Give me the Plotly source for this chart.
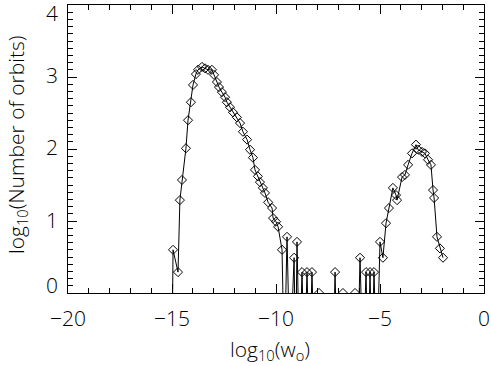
import plotly.graph_objects as go

# log10(w_o) bin positions and log10(number of orbits); -1 marks an empty bin (log of 0, off the axis)
log_w = [-15.19, -15.0, -14.95, -14.71, -14.62, -14.52, -14.33, -14.23, -14.09, -13.99, -13.85,
         -13.75, -13.56, -13.41, -13.27, -13.08, -12.98, -12.84, -12.74, -12.60, -12.45,
         -12.36, -12.21, -12.07, -11.88, -11.73, -11.59, -11.39, -11.25, -11.11, -11.01,
         -10.87, -10.77, -10.63, -10.53, -10.38, -10.19, -10.14, -10.0, -9.90, -9.71,
         -9.60, -9.47, -9.33, -9.13, -9.06, -8.99, -8.87, -8.75, -8.63, -8.51, -8.39,
         -8.27, -8.15, -7.93, -7.83, -7.26, -7.16, -7.06, -6.78, -6.68, -6.20, -6.08,
         -5.96, -5.82, -5.67, -5.58, -5.48, -5.38, -5.29, -5.15, -5.0, -4.86, -4.71,
         -4.57, -4.38, -4.23, -4.18, -3.94, -3.80, -3.65, -3.46, -3.27, -3.17, -2.98,
         -2.84, -2.69, -2.55, -2.45, -2.40, -2.26, -2.12, -1.97]
log_n = [-1, -1, 0.60, 0.29, 1.29, 1.57, 2.01, 2.40, 2.65, 2.89, 3.04,
         3.10, 3.14, 3.12, 3.10, 3.10, 3.03, 2.93, 2.86, 2.79, 2.72,
         2.65, 2.58, 2.51, 2.44, 2.36, 2.24, 2.13, 1.99, 1.88, 1.71,
         1.62, 1.54, 1.46, 1.39, 1.26, 1.18, 1.04, 0.99, 0.92, 0.60,
         -1, 0.78, -1, 0.49, -1, 0.71, -1, 0.29, -1, 0.29, -1,
         0.29, -1, 0.0, -1, -1, 0.29, -1, 0.0, -1, 0.0, -1,
         0.49, -1, 0.29, -1, 0.29, -1, 0.29, -1, 0.71, 0.49, 0.97,
         1.18, 1.46, 1.36, 1.29, 1.61, 1.64, 1.78, 1.94, 2.06, 1.99, 1.96,
         1.94, 1.85, 1.78, 1.43, 1.32, 0.78, 0.62, 0.49]

x_ticks = [-20, -15, -10, -5, 0]
x_labels = ["\u221220", "\u221215", "\u221210", "\u22125", "0"]
y_ticks = [0, 1, 2, 3, 4]
y_labels = ["0", "1", "2", "3", "4"]
x_title = "log<sub>10</sub>(w<sub>o</sub>)"
y_title = "log<sub>10</sub>(Number of orbits)"

# styling: vertical nudges of the y tick labels (pixels, positive = up)
y_label_nudge = [8, 1, 2, 2, -8]

FONT = dict(family="Open Sans", size=21, color="black", weight=300)
TFONT = dict(family="Open Sans", size=21, color="black", weight=300)

fig = go.Figure()
fig.add_trace(go.Scatter(
    x=log_w, y=log_n, mode="lines+markers",
    line=dict(color="black", width=1),
    marker=dict(symbol="diamond-open", size=7, color="black", line=dict(width=1)),
    showlegend=False, cliponaxis=True,
))
# empty trace registering the minor-tick axes
fig.add_trace(go.Scatter(x=[], y=[], xaxis="x2", yaxis="y2", showlegend=False))

base = dict(showgrid=False, zeroline=False, showticklabels=False,
            ticks="inside", tickcolor="black", tickwidth=1, mirror="ticks")

fig.update_layout(
    width=491, height=366,
    margin=dict(l=68, r=7, t=5, b=73),
    paper_bgcolor="white", plot_bgcolor="white",
    xaxis=dict(range=[-20, 0], tickmode="array", tickvals=x_ticks, ticklen=9,
               showline=True, linecolor="black", linewidth=1, **base),
    yaxis=dict(range=[0, 4], tickmode="array", tickvals=y_ticks, ticklen=9,
               showline=True, linecolor="black", linewidth=1, **base),
    xaxis2=dict(range=[-20, 0], overlaying="x", anchor="y", side="bottom", tickmode="linear",
                tick0=0, dtick=1, ticklen=5, showline=False, **base),
    yaxis2=dict(range=[0, 4], overlaying="y", anchor="x", side="left", tickmode="linear",
                tick0=0, dtick=0.1, ticklen=5, showline=False, **base),
)

annotations = []
for v, t in zip(x_ticks, x_labels):
    annotations.append(dict(x=v, xref="x", y=0, yref="paper", text=t, showarrow=False,
                            xanchor="center", yanchor="middle", yshift=-25, font=FONT))
for v, t, n in zip(y_ticks, y_labels, y_label_nudge):
    annotations.append(dict(x=0, xref="paper", y=v, yref="y", text=t, showarrow=False,
                            xanchor="right", yanchor="middle", xshift=-8, yshift=n, font=FONT))
annotations.append(dict(x=0.5, xref="paper", y=0, yref="paper", text=x_title, showarrow=False,
                        xanchor="center", yanchor="middle", xshift=-6, yshift=-57, font=TFONT))
annotations.append(dict(x=0, xref="paper", y=0.5, yref="paper", text=y_title, showarrow=False,
                        textangle=-90, xanchor="center", yanchor="middle", xshift=-51, yshift=4,
                        font=TFONT))
fig.update_layout(annotations=annotations)

fig.write_html("out.html", config={"displayModeBar": False},
               post_script="document.body.style.margin='0';")
